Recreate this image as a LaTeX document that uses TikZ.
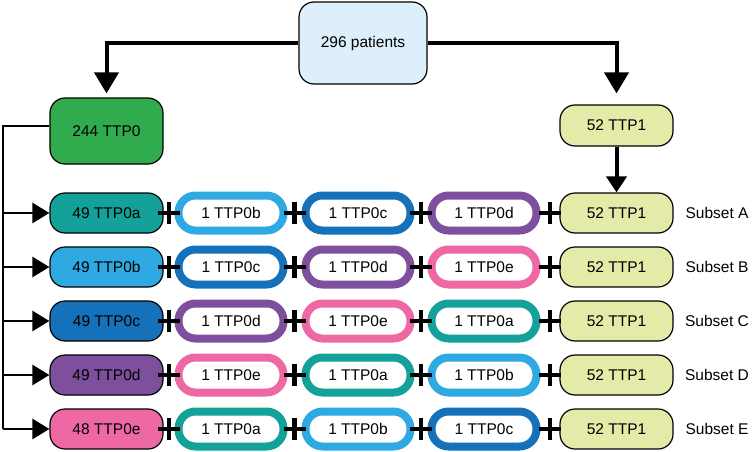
\documentclass[tikz,border=0pt]{standalone}
\usepackage{fontspec}
\setmainfont{Liberation Sans}
\usetikzlibrary{arrows.meta,calc}
\definecolor{cola}{HTML}{13A19A}
\definecolor{colb}{HTML}{2EA9E1}
\definecolor{colc}{HTML}{1571B9}
\definecolor{cold}{HTML}{7E4F9D}
\definecolor{cole}{HTML}{EE69A3}
\definecolor{pfill}{HTML}{DDEFFB}
\definecolor{gfill}{HTML}{30AC4F}
\definecolor{yfill}{HTML}{E4EAA7}
\begin{document}
\begin{tikzpicture}[x=1pt,y=-1pt,
  every node/.style={font=\fontsize{15.5}{18}\selectfont, inner sep=0pt},
  solidbox/.style={draw=black, line width=1.2pt, rounded corners=15pt, minimum width=113pt, minimum height=40pt},
  ringbox/.style={draw=#1, fill=white, line width=8pt, rounded corners=17pt, minimum width=105pt, minimum height=35pt},
  bigarrow/.style={line width=4pt, -{Triangle[length=21pt,width=24pt]}},
  midarrow/.style={line width=4pt, -{Triangle[length=16pt,width=20pt]}},
  rowarrow/.style={line width=2.5pt, -{Triangle[length=17pt,width=20pt]}},
  trunk/.style={line width=2.5pt},
  plusmark/.style={line width=4.5pt},
  sublabel/.style={anchor=center}
]
\useasboundingbox (0,0) rectangle (752,452);

\node[solidbox, fill=pfill, minimum width=128pt, minimum height=82pt] (p) at (363,43) {296 patients};
\node[solidbox, fill=gfill, minimum height=66pt] (t0) at (106.5,131) {244 TTP0};
\node[solidbox, fill=yfill, minimum height=41pt] (t1) at (616.5,125.5) {52 TTP1};

\draw[bigarrow, shorten >=4pt] (p.west) -| (t0.north);
\draw[bigarrow, shorten >=11pt] (p.east) -| (t1.north);

\foreach \r/\yy/\nn/\xa/\xb/\xc/\xd/\ss in {1/213/49/a/b/c/d/A, 2/267/49/b/c/d/e/B, 3/321/49/c/d/e/a/C, 4/375/49/d/e/a/b/D, 5/429/48/e/a/b/c/E}{
  \node[solidbox, fill=col\xa] (r\r c1) at (106.5,\yy) {\nn{} TTP0\xa};
  \node[ringbox=col\xb] (r\r c2) at (231,\yy) {1 TTP0\xb};
  \node[ringbox=col\xc] (r\r c3) at (358,\yy) {1 TTP0\xc};
  \node[ringbox=col\xd] (r\r c4) at (484,\yy) {1 TTP0\xd};
  \node[solidbox, fill=yfill] (r\r c5) at (616.5,\yy) {52 TTP1};
  \node[sublabel] (s\r) at (717,\yy) {Subset \ss};
  \foreach \ia/\ib in {1/2,2/3,3/4,4/5}{
    \coordinate (m) at ($(r\r c\ia.east)!0.5!(r\r c\ib.west)$);
    \draw[plusmark] ($(m)+(-11,0)$) -- ($(m)+(11,0)$) ($(m)+(0,-11)$) -- ($(m)+(0,11)$);
  }
}

\coordinate (L) at (3,126);
\draw[trunk] ([yshift=5pt]t0.west) -- (L) -- (L |- r5c1.west);
\foreach \r in {1,...,5}{
  \draw[rowarrow] (L |- r\r c1.west) -- (r\r c1.west);
}
\draw[midarrow] (t1.south) -- (r1c5.north);
\end{tikzpicture}
\end{document}
